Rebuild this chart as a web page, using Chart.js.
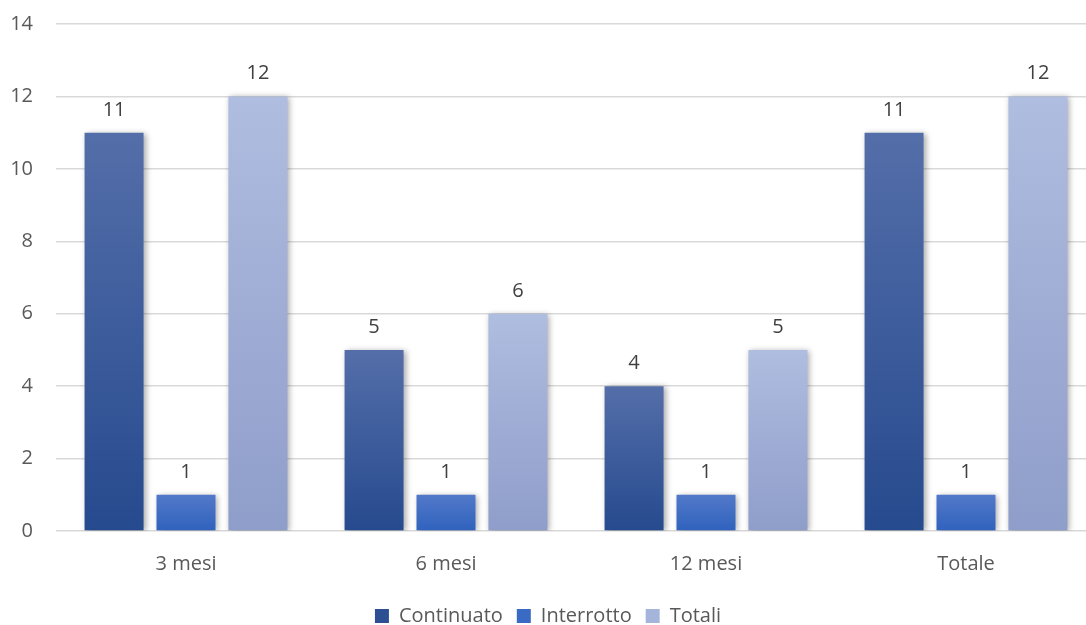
<!DOCTYPE html>
<html>
<head>
<meta charset="utf-8">
<script src="https://cdn.jsdelivr.net/npm/chart.js@4/dist/chart.umd.min.js"></script>
<style>
html,body{margin:0;padding:0;background:#fff;overflow:hidden;}
#wrap{position:relative;width:1086px;height:625px;overflow:hidden;}
#c{position:absolute;left:0;top:-11px;}
</style>
</head>
<body>
<div id="wrap"><canvas id="c" width="1128" height="647"></canvas></div>
<script>
const categories = ["3 mesi", "6 mesi", "12 mesi", "Totale"];
const continuato = [11, 5, 4, 11];
const interrotto = [1, 1, 1, 1];
const totali = [12, 6, 5, 12];
const seriesNames = ["Continuato", "Interrotto", "Totali"];
const yTicks = [0, 2, 4, 6, 8, 10, 12, 14];

const FONT = '"Open Sans", "Noto Sans", sans-serif';
const FS = 20;
const gradStops = [
  ["#546ea9", "#264a8e"],
  ["#5279c9", "#2f62bd"],
  ["#afbde0", "#8f9dca"]
];
const legendColors = ["#2d4f93", "#3a6bc4", "#a5b4da"];

function gradFill(idx){
  return function(ctx){
    const chart = ctx.chart;
    if (ctx.type !== 'data' || !chart.chartArea || !chart.scales.y) return gradStops[idx][1];
    const ys = chart.scales.y;
    const top = ys.getPixelForValue(ctx.raw);
    const bot = ys.getPixelForValue(0);
    if (!isFinite(top) || !isFinite(bot) || bot - top < 1) return gradStops[idx][1];
    const g = chart.ctx.createLinearGradient(0, top, 0, bot);
    g.addColorStop(0, gradStops[idx][0]);
    g.addColorStop(1, gradStops[idx][1]);
    return g;
  };
}

const shadowPlugin = {
  id: 'shadow',
  beforeDatasetsDraw(chart){
    const c = chart.ctx;
    c.save();
    c.shadowColor = 'rgba(0,0,0,0.35)';
    c.shadowBlur = 6;
    c.shadowOffsetX = 2;
    c.shadowOffsetY = 1;
  },
  afterDatasetsDraw(chart){
    chart.ctx.restore();
  }
};

const labelPlugin = {
  id: 'labels',
  afterDraw(chart){
    const c = chart.ctx;
    c.save();
    c.font = FS + 'px ' + FONT;
    c.fillStyle = '#404040';
    c.textAlign = 'center';
    c.textBaseline = 'alphabetic';
    chart.data.datasets.forEach((ds, i) => {
      const meta = chart.getDatasetMeta(i);
      meta.data.forEach((bar, j) => {
        c.fillText(String(ds.data[j]), bar.x, bar.y - 17);
      });
    });
    c.restore();
  }
};

const datasets = [continuato, interrotto, totali].map((d, i) => ({
  label: seriesNames[i],
  data: d,
  backgroundColor: gradFill(i),
  borderWidth: 0,
  barPercentage: 0.82,
  categoryPercentage: 0.83
}));

new Chart(document.getElementById('c'), {
  type: 'bar',
  data: { labels: categories, datasets },
  options: {
    responsive: false,
    animation: false,
    devicePixelRatio: 1,
    layout: { padding: { left: 0, right: 32, top: 0, bottom: 0 } },
    plugins: {
      legend: {
        position: 'bottom',
        labels: {
          font: { size: FS, family: FONT },
          color: '#595959',
          boxWidth: 14,
          boxHeight: 14,
          padding: 14,
          generateLabels(chart){
            return seriesNames.map((n, i) => ({
              text: n,
              fillStyle: legendColors[i],
              strokeStyle: legendColors[i],
              lineWidth: 0,
              hidden: false,
              datasetIndex: i,
              fontColor: '#595959'
            }));
          }
        }
      },
      tooltip: { enabled: false }
    },
    scales: {
      x: {
        grid: { display: false },
        border: { display: false },
        afterFit(axis){ axis.height = axis.height + 3; },
        ticks: { font: { size: FS, family: FONT }, color: '#595959', padding: 13 }
      },
      y: {
        min: 0, max: 14,
        afterBuildTicks(axis){ axis.ticks = yTicks.map(v => ({ value: v })); },
        afterFit(axis){ axis.width = 56; },
        grid: { color: '#d9d9d9', lineWidth: 1.5, drawTicks: false },
        border: { display: false },
        ticks: { font: { size: FS, family: FONT }, color: '#595959', padding: 23 }
      }
    }
  },
  plugins: [shadowPlugin, labelPlugin]
});
</script>
</body>
</html>
